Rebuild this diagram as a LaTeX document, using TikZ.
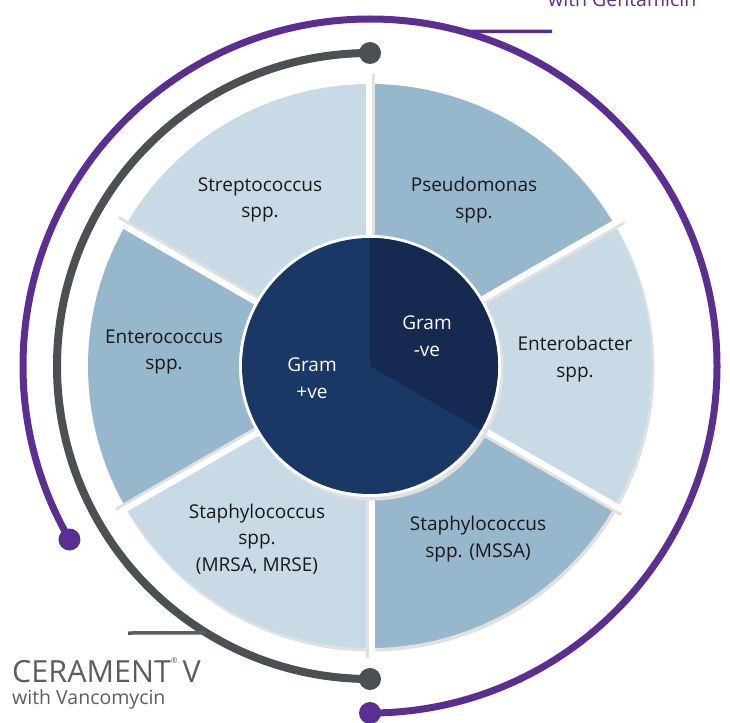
\documentclass[tikz,border=0pt]{standalone}
\usepackage{fontspec}
\setmainfont{Open Sans}
\usetikzlibrary{calc}
\definecolor{lightseg}{HTML}{C9DAE7}
\definecolor{darkseg}{HTML}{97B7CD}
\definecolor{gramneg}{HTML}{162A51}
\definecolor{grampos}{HTML}{1A3865}
\definecolor{purplearc}{HTML}{5B2E91}
\definecolor{grayarc}{HTML}{4B5055}
\definecolor{shadowgray}{HTML}{E1E1E1}
\definecolor{labelgray}{HTML}{5A5D61}
\tikzset{
  seglabel/.style={align=center, text=black!90, font=\fontsize{19}{26.5}\selectfont, inner sep=0pt},
  gramlabel/.style={align=center, text=white, font=\fontsize{19}{26.5}\selectfont, inner sep=0pt},
  gapline/.style={white, line width=6pt},
  gapshadow/.style={shadowgray, line width=9pt},
}
\begin{document}
\begin{tikzpicture}[x=1pt,y=1pt]
\useasboundingbox (0,0) rectangle (730,-722);
\coordinate (C) at (370,-366);
% shadows behind the ring
\fill[shadowgray] ([shift={(1.5,-2.5)}]C) circle[radius=283];
% sectors
\fill[darkseg]  (C) -- ++(30:282)  arc[start angle=30,  end angle=90,  radius=282] -- cycle;
\fill[lightseg] (C) -- ++(90:282)  arc[start angle=90,  end angle=150, radius=282] -- cycle;
\fill[darkseg]  (C) -- ++(150:282) arc[start angle=150, end angle=210, radius=282] -- cycle;
\fill[lightseg] (C) -- ++(210:282) arc[start angle=210, end angle=270, radius=282] -- cycle;
\fill[darkseg]  (C) -- ++(270:282) arc[start angle=270, end angle=330, radius=282] -- cycle;
\fill[lightseg] (C) -- ++(-30:282) arc[start angle=-30, end angle=30,  radius=282] -- cycle;
% gaps
\foreach \a in {90,30,-30,-90,-150,150}{
  \draw[gapshadow] (C) -- ++(\a:292);
  \draw[gapline] ([shift={(\a+90:1.5)}]C) -- ++(\a:292);
}
% inner pie
\fill[shadowgray] ([shift={(2.5,-3.5)}]C) circle[radius=131];
\fill[white] (C) circle[radius=131];
\fill[grampos] (C) circle[radius=128];
\fill[gramneg] (C) -- ++(-30:128) arc[start angle=-30, end angle=90, radius=128] -- cycle;
% arcs
\coordinate (pA) at ($(C)+(270:347)$);
\coordinate (pB) at ($(C)+(210:347)$);
\coordinate (gA) at ($(C)+(90:313)$);
\coordinate (gB) at ($(C)+(270:313)$);
\draw[purplearc, line width=7pt] (pA) arc[start angle=-90, end angle=210, radius=347];
\fill[purplearc] (pA) circle[radius=11];
\fill[purplearc] (pB) circle[radius=11];
\draw[grayarc, line width=8pt] (gA) arc[start angle=90, end angle=270, radius=313];
\fill[grayarc] (gA) circle[radius=11];
\fill[grayarc] (gB) circle[radius=11];
% leader lines
\coordinate (pL) at ($(C)+(74.6:347)$);
\coordinate (pR) at (552,-31.5);
\draw[purplearc, line width=3.5pt] (pL) -- (pR);
\coordinate (gL) at (128,-633);
\coordinate (gR) at ($(C)+(238.5:313)$);
\draw[labelgray, line width=3.5pt] (gL) -- (gR);
% labels
\node[seglabel] (strep) at (260,-200) {Streptococcus\\spp.};
\node[seglabel] (pseudo) at (474,-200) {Pseudomonas\\spp.};
\node[seglabel] (enterococ) at (164,-352) {Enterococcus\\spp.};
\node[seglabel] (enterobac) at (575,-359) {Enterobacter\\spp.};
\node[seglabel] (mrsa) at (257,-539) {Staphylococcus\\spp.\\(MRSA, MRSE)};
\node[seglabel] (mssa) at (478,-539) {Staphylococcus\\spp. (MSSA)};
\node[gramlabel] (gneg) at (427,-336) {Gram\\-ve};
\node[gramlabel] (gpos) at (312,-378) {Gram\\+ve};
% product labels
\node[anchor=base west, inner sep=0pt, text=purplearc, font=\fontsize{19.5}{20}\selectfont] (gent) at (548,-7) {with Gentamicin};
\node[anchor=base west, inner sep=0pt, text=labelgray, font=\fontsize{30.5}{34}\selectfont] (cer) at (12,-682) {CERAMENT\raisebox{0.6em}{\fontsize{8}{8}\selectfont\textregistered}\,V};
\node[anchor=base west, inner sep=0pt, text=labelgray, font=\fontsize{19.5}{20}\selectfont] (vanc) at (12,-704) {with Vancomycin};
\end{tikzpicture}
\end{document}
